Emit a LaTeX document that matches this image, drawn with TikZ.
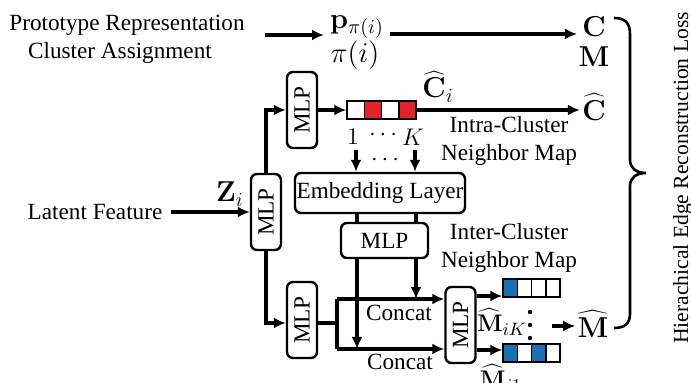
\documentclass[tikz,border=0pt]{standalone}
\usepackage[no-math]{fontspec}
\setmainfont{Liberation Serif}
\usetikzlibrary{arrows.meta,calc}
\definecolor{cred}{HTML}{E3222B}
\definecolor{cblue}{HTML}{1C6FB6}
\begin{document}
\begin{tikzpicture}[x=0.5pt,y=-0.5pt,
  font=\fontsize{11.6}{14}\selectfont,
  box/.style={draw,line width=1.2pt,rounded corners=3pt,inner sep=0pt},
  vbox/.style={box,rotate=90,minimum width=38pt,minimum height=15pt},
  arr/.style={line width=1.6pt,-{Latex[length=6pt,width=5.5pt]}},
  ln/.style={line width=1.6pt},
  rcell/.style={draw,line width=0.7pt,inner sep=0pt,minimum width=8.6pt,minimum height=9pt},
  bcell/.style={draw,line width=0.7pt,inner sep=0pt,minimum width=7.1pt,minimum height=9pt},
  dot/.style={circle,fill,inner sep=0pt,minimum size=2.2pt},
  lbl/.style={inner sep=1pt},
  mth/.style={inner sep=1pt,font=\fontsize{14}{16}\selectfont},
  smth/.style={inner sep=1pt,font=\fontsize{12.5}{15}\selectfont}]
\useasboundingbox (0,0) rectangle (691,383);

% top labels
\node[lbl] (proto) at (127,25) {Prototype Representation};
\node[lbl] (clas) at (120,53) {Cluster Assignment};
\node[mth] (p) at (357,27) {$\mathbf{p}_{\pi(i)}$};
\node[mth] (pi) at (355,55) {$\pi(i)$};
\node[mth] (C) at (594,27) {$\mathbf{C}$};
\node[mth] (M) at (594,57) {$\mathbf{M}$};
\coordinate (a1s) at (265,35);
\coordinate (a1e) at (324,35);
\coordinate (a2s) at (390,34);
\coordinate (a2e) at (577,34);
\draw[arr] (a1s) -- (a1e);
\draw[arr] (a2s) -- (a2e);

% latent feature
\node[lbl] (lat) at (95,212) {Latent Feature};
\node[vbox] (m0) at (266,212) {MLP};
\node[mth] (z) at (230,194) {$\mathbf{Z}_i$};
\draw[arr] (lat.east) ++(6,0) coordinate (lats) -- (m0.north);

% upper branch
\node[vbox] (m1) at (302,110) {MLP};
\draw[arr] (m0.east) -- (m0.east |- m1.north) -- (m1.north);
\node[rcell] (r1) at (355.6,110) {};
\node[rcell,fill=cred] (r2) at (372.9,110) {};
\node[rcell] (r3) at (390.1,110) {};
\node[rcell,fill=cred] (r4) at (407.4,110) {};
\draw[arr] (m1.south) -- (r1.west);
\node[mth] (Ci) at (438,87) {$\widehat{\mathbf{C}}_i$};
\node[mth] (Ch) at (594,107) {$\widehat{\mathbf{C}}$};
\draw[arr] (r4.east) -- (Ch.west |- r4.east);
\node[smth] (one) at (353,137) {$1$};
\node[smth] (cd1) at (383,135) {$\cdots$};
\node[smth] (K) at (413,137) {$K$};
\node[lbl,align=center] (intra) at (509,141) {Intra-Cluster\\Neighbor Map};

% embedding
\node[box,minimum width=85pt,minimum height=20pt] (emb) at (380,193) {Embedding Layer};
\coordinate (d1) at (356,150);
\coordinate (d2) at (415,150);
\draw[arr] (d1) -- (d1 |- emb.north);
\draw[arr] (d2) -- (d2 |- emb.north);
\node[smth] (cd2) at (385,160) {$\cdots$};
\node[box,minimum width=43.5pt,minimum height=17.5pt] (mh) at (384.5,240.5) {MLP};
\coordinate (v1) at (357,0);
\coordinate (v2) at (416,0);
\draw[ln] (v1 |- emb.south) -- (v1 |- mh.north);
\draw[ln] (v2 |- emb.south) -- (v2 |- mh.north);
\node[lbl,align=center] (inter) at (509,248) {Inter-Cluster\\Neighbor Map};

% lower branch
\node[vbox] (m2) at (302,320) {MLP};
\coordinate (jl) at (268,323);
\draw[arr] (m0.west) -- (m0.west |- jl) -- (m2.north |- jl);
\node[vbox] (m3) at (460.5,325) {MLP};
\coordinate (j) at (337,323);
\coordinate (ct) at (337,299);
\coordinate (cb) at (337,349);
\draw[ln] (m2.south |- j) -- (j);
\draw[ln] (ct) -- (cb);
\draw[arr] (ct) -- (m3.north |- ct);
\draw[arr] (cb) -- (m3.north |- cb);
\draw[arr] (v1 |- mh.south) -- (v1 |- cb);
\draw[arr] (v2 |- mh.south) -- (v2 |- ct);
\node[lbl] (cc1) at (399,313) {Concat};
\node[lbl] (cc2) at (400,362) {Concat};

% blue arrays
\node[bcell,fill=cblue] (t1) at (510.1,288) {};
\node[bcell] (t2) at (524.4,288) {};
\node[bcell] (t3) at (538.6,288) {};
\node[bcell] (t4) at (552.9,288) {};
\node[bcell,fill=cblue] (b1) at (510.1,353) {};
\node[bcell] (b2) at (524.4,353) {};
\node[bcell,fill=cblue] (b3) at (538.6,353) {};
\node[bcell] (b4) at (552.9,353) {};
\coordinate (ot) at (0,296);
\coordinate (ob) at (0,350);
\draw[arr] (m3.south |- ot) -- (t1.west |- ot);
\draw[arr] (m3.south |- ob) -- (b1.west |- ob);
\node[smth] (MiK) at (502,322) {$\widehat{\mathbf{M}}_{iK}$};
\node[smth] (Mi1) at (501,378) {$\widehat{\mathbf{M}}_{i1}$};
\node[dot] (vd1) at (530,312) {};
\node[dot] (vd2) at (530,325) {};
\node[dot] (vd3) at (530,338) {};
\node[mth] (Mh) at (593,324) {$\widehat{\mathbf{M}}$};
\coordinate (a3s) at (552,326);
\draw[arr] (a3s) -- (Mh.west |- a3s);

% brace
\draw[line width=1.3pt] (614,18) .. controls (624,18) and (630,22) .. (630,34)
  -- (630,160) .. controls (630,168) and (636,173) .. (646,173)
  .. controls (636,173) and (630,178) .. (630,186)
  -- (630,314) .. controls (630,324) and (624,328) .. (614,328);
\node[lbl,rotate=90,font=\fontsize{10.8}{13}\selectfont] (loss) at (683,178) {Hierachical Edge Reconstruction Loss};
\end{tikzpicture}
\end{document}
